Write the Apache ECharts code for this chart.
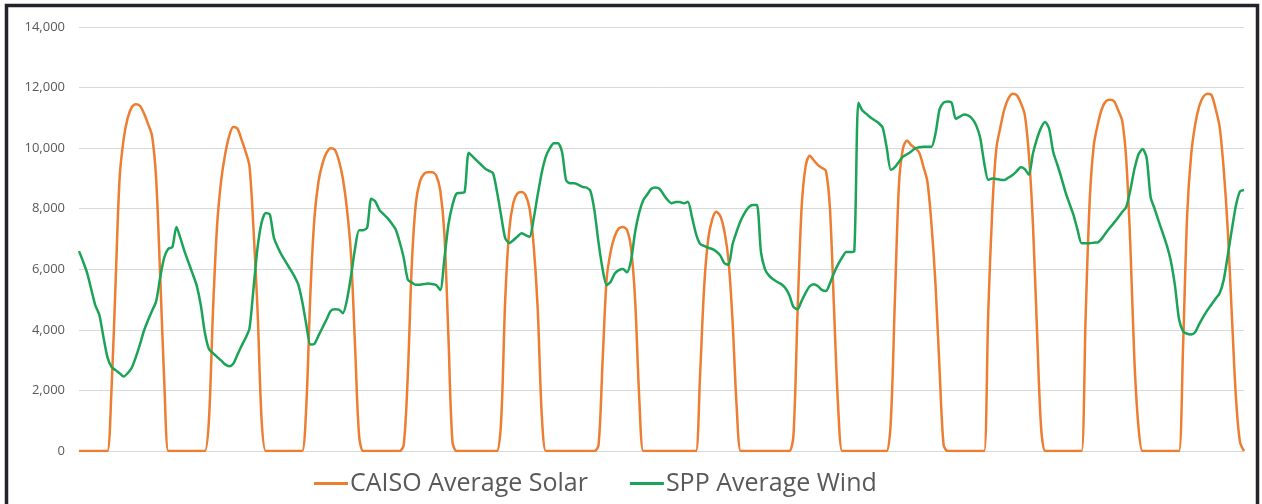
<!DOCTYPE html>
<html><head><meta charset="utf-8">
<script src="https://cdn.jsdelivr.net/npm/echarts@6/dist/echarts.min.js"></script>
<style>html,body{margin:0;padding:0;background:#fff}#c{width:1262px;height:504px}</style>
</head><body><div id="c"></div>
<script>
const days = ['Day 1','Day 2','Day 3','Day 4','Day 5','Day 6','Day 7','Day 8','Day 9','Day 10','Day 11','Day 12'];
const hours = ['0:00','1:00','2:00','3:00','4:00','5:00','6:00','7:00','8:00','9:00','10:00','11:00','12:00','13:00','14:00','15:00','16:00','17:00','18:00','19:00','20:00','21:00','22:00','23:00'];
const yTicks = [0,2000,4000,6000,8000,10000,12000,14000];
const seriesNames = ['CAISO Average Solar','SPP Average Wind'];

const solarDay01 = [0,0,0,0,0,0,0,0,2000,5500,9000,10300,11000,11350,11450,11400,11150,10800,10400,9000,5800,2300,0,0];
const solarDay02 = [0,0,0,0,0,0,0,0,1000,4600,7400,8900,9800,10400,10700,10650,10300,9900,9400,7300,4600,1000,0,0];
const solarDay03 = [0,0,0,0,0,0,0,0,1500,5200,7700,8900,9500,9850,10000,9950,9600,9000,8000,6500,3500,500,0,0];
const solarDay04 = [0,0,0,0,0,0,0,0,200,2500,6200,8200,8900,9150,9200,9200,9100,8600,7200,3800,300,0,0,0];
const solarDay05 = [0,0,0,0,0,0,0,0,1000,5000,7300,8200,8500,8550,8450,8000,6800,4700,1200,0,0,0,0,0];
const solarDay06 = [0,0,0,0,0,0,0,0,200,3000,5700,6600,7100,7350,7400,7300,6700,5000,1800,0,0,0,0,0];
const solarDay07 = [0,0,0,0,0,0,0,0,0,2500,5400,7000,7650,7900,7750,7250,6300,4300,1500,0,0,0,0,0];
const solarDay08 = [0,0,0,0,0,0,0,0,500,4500,8000,9400,9750,9600,9450,9350,9250,8000,4700,1500,0,0,0,0];
const solarDay09 = [0,0,0,0,0,0,0,0,1000,5000,8800,10000,10250,10100,10000,9850,9400,8900,7500,5500,2700,200,0,0];
const solarDay10 = [0,0,0,0,0,0,0,0,4600,8000,10000,10700,11300,11650,11800,11750,11500,11100,9800,7500,4000,800,0,0];
const solarDay11 = [0,0,0,0,0,0,0,0,4500,8300,10100,10800,11300,11550,11600,11550,11250,10900,9600,6800,3000,800,0,0];
const solarDay12 = [0,0,0,0,0,0,0,0,3500,7800,9800,10800,11400,11700,11800,11750,11300,10700,9300,7300,4500,1800,300,0];

const windDay01 = [6600,6260,5880,5350,4820,4500,3780,3100,2780,2670,2570,2460,2570,2750,3100,3510,3970,4320,4630,4940,5730,6390,6680,6730];
const windDay02 = [7400,7020,6590,6220,5850,5460,4820,3910,3370,3230,3110,2990,2860,2800,2880,3170,3460,3720,4050,5380,6730,7550,7860,7810];
const windDay03 = [7050,6720,6450,6230,6010,5780,5500,4930,4170,3520,3540,3810,4080,4350,4620,4680,4670,4550,4980,5770,6680,7290,7290,7380];
const windDay04 = [8330,8240,7960,7820,7690,7520,7320,6900,6370,5660,5560,5490,5490,5510,5530,5510,5480,5320,6330,7470,8120,8500,8520,8550];
const windDay05 = [9850,9720,9590,9460,9330,9250,9170,8540,7770,7030,6870,6960,7080,7190,7130,7070,7660,8460,9190,9720,10000,10160,10160,9870];
const windDay06 = [8940,8840,8840,8790,8720,8700,8580,7920,6870,6000,5480,5590,5860,5970,6010,5900,6300,7230,7870,8280,8470,8660,8700,8660];
const windDay07 = [8470,8290,8180,8220,8220,8180,8230,7730,7170,6840,6770,6710,6670,6590,6450,6200,6150,6820,7240,7600,7860,8050,8120,8120];
const windDay08 = [6570,6000,5790,5670,5580,5510,5380,5140,4760,4680,4950,5220,5440,5510,5450,5320,5280,5540,5880,6160,6390,6570,6570,6600];
const windDay09 = [11500,11240,11130,11010,10920,10830,10670,10000,9280,9370,9550,9720,9800,9890,9990,10030,10050,10050,10050,10480,11280,11500,11540,11490];
const windDay10 = [10970,11040,11110,11080,10980,10760,10350,9510,8950,9000,8980,8960,8950,9030,9110,9240,9370,9310,9120,9820,10310,10670,10860,10640];
const windDay11 = [9870,9460,9030,8560,8170,7790,7300,6860,6860,6860,6880,6890,7020,7210,7380,7540,7710,7890,8060,8620,9300,9790,9970,9690];
const windDay12 = [8380,7990,7580,7190,6780,6260,5450,4350,3950,3870,3850,3930,4200,4440,4650,4840,5030,5210,5650,6460,7310,8100,8570,8620];

const categories = days.flatMap(d => hours.map(h => d + ' ' + h));
const solar = [].concat(solarDay01,solarDay02,solarDay03,solarDay04,solarDay05,solarDay06,solarDay07,solarDay08,solarDay09,solarDay10,solarDay11,solarDay12);
const wind = [].concat(windDay01,windDay02,windDay03,windDay04,windDay05,windDay06,windDay07,windDay08,windDay09,windDay10,windDay11,windDay12);

const chart = echarts.init(document.getElementById('c'), null, {renderer:'canvas'});
chart.setOption({
  animation:false,
  backgroundColor:'#ffffff',
  grid:{left:79,right:18,top:27,bottom:53,containLabel:false},
  xAxis:{type:'category',data:categories,boundaryGap:false,
    axisLabel:{show:false},axisTick:{show:false},
    axisLine:{show:true,lineStyle:{color:'#d9d9d9',width:1}},splitLine:{show:false}},
  yAxis:{type:'value',min:yTicks[0],max:yTicks[yTicks.length-1],interval:yTicks[1]-yTicks[0],
    axisLine:{show:false},axisTick:{show:false},
    splitLine:{lineStyle:{color:'#d9d9d9',width:1}},
    axisLabel:{margin:14,color:'#595959',fontSize:13,fontFamily:'Open Sans',
      formatter:v=>v.toLocaleString('en-US')}},
  legend:{left:309,top:466,icon:'rect',itemWidth:34,itemHeight:3,itemGap:42,
    textStyle:{fontSize:25,color:'#595959',fontFamily:'Open Sans',padding:[0,0,0,-3]},data:seriesNames},
  series:[
    {name:seriesNames[0],type:'line',data:solar,symbol:'none',showSymbol:false,smooth:0.3,
      lineStyle:{color:'#ED7D31',width:2.5},itemStyle:{color:'#ED7D31'}},
    {name:seriesNames[1],type:'line',data:wind,symbol:'none',showSymbol:false,smooth:0.25,
      lineStyle:{color:'#1BA357',width:2.5},itemStyle:{color:'#1BA357'}}
  ],
  graphic:[{type:'rect',silent:true,z:100,
    shape:{x:6.5,y:5.5,width:1251,height:540},
    style:{fill:'none',stroke:'#23232b',lineWidth:3.5}}]
});
</script></body></html>
